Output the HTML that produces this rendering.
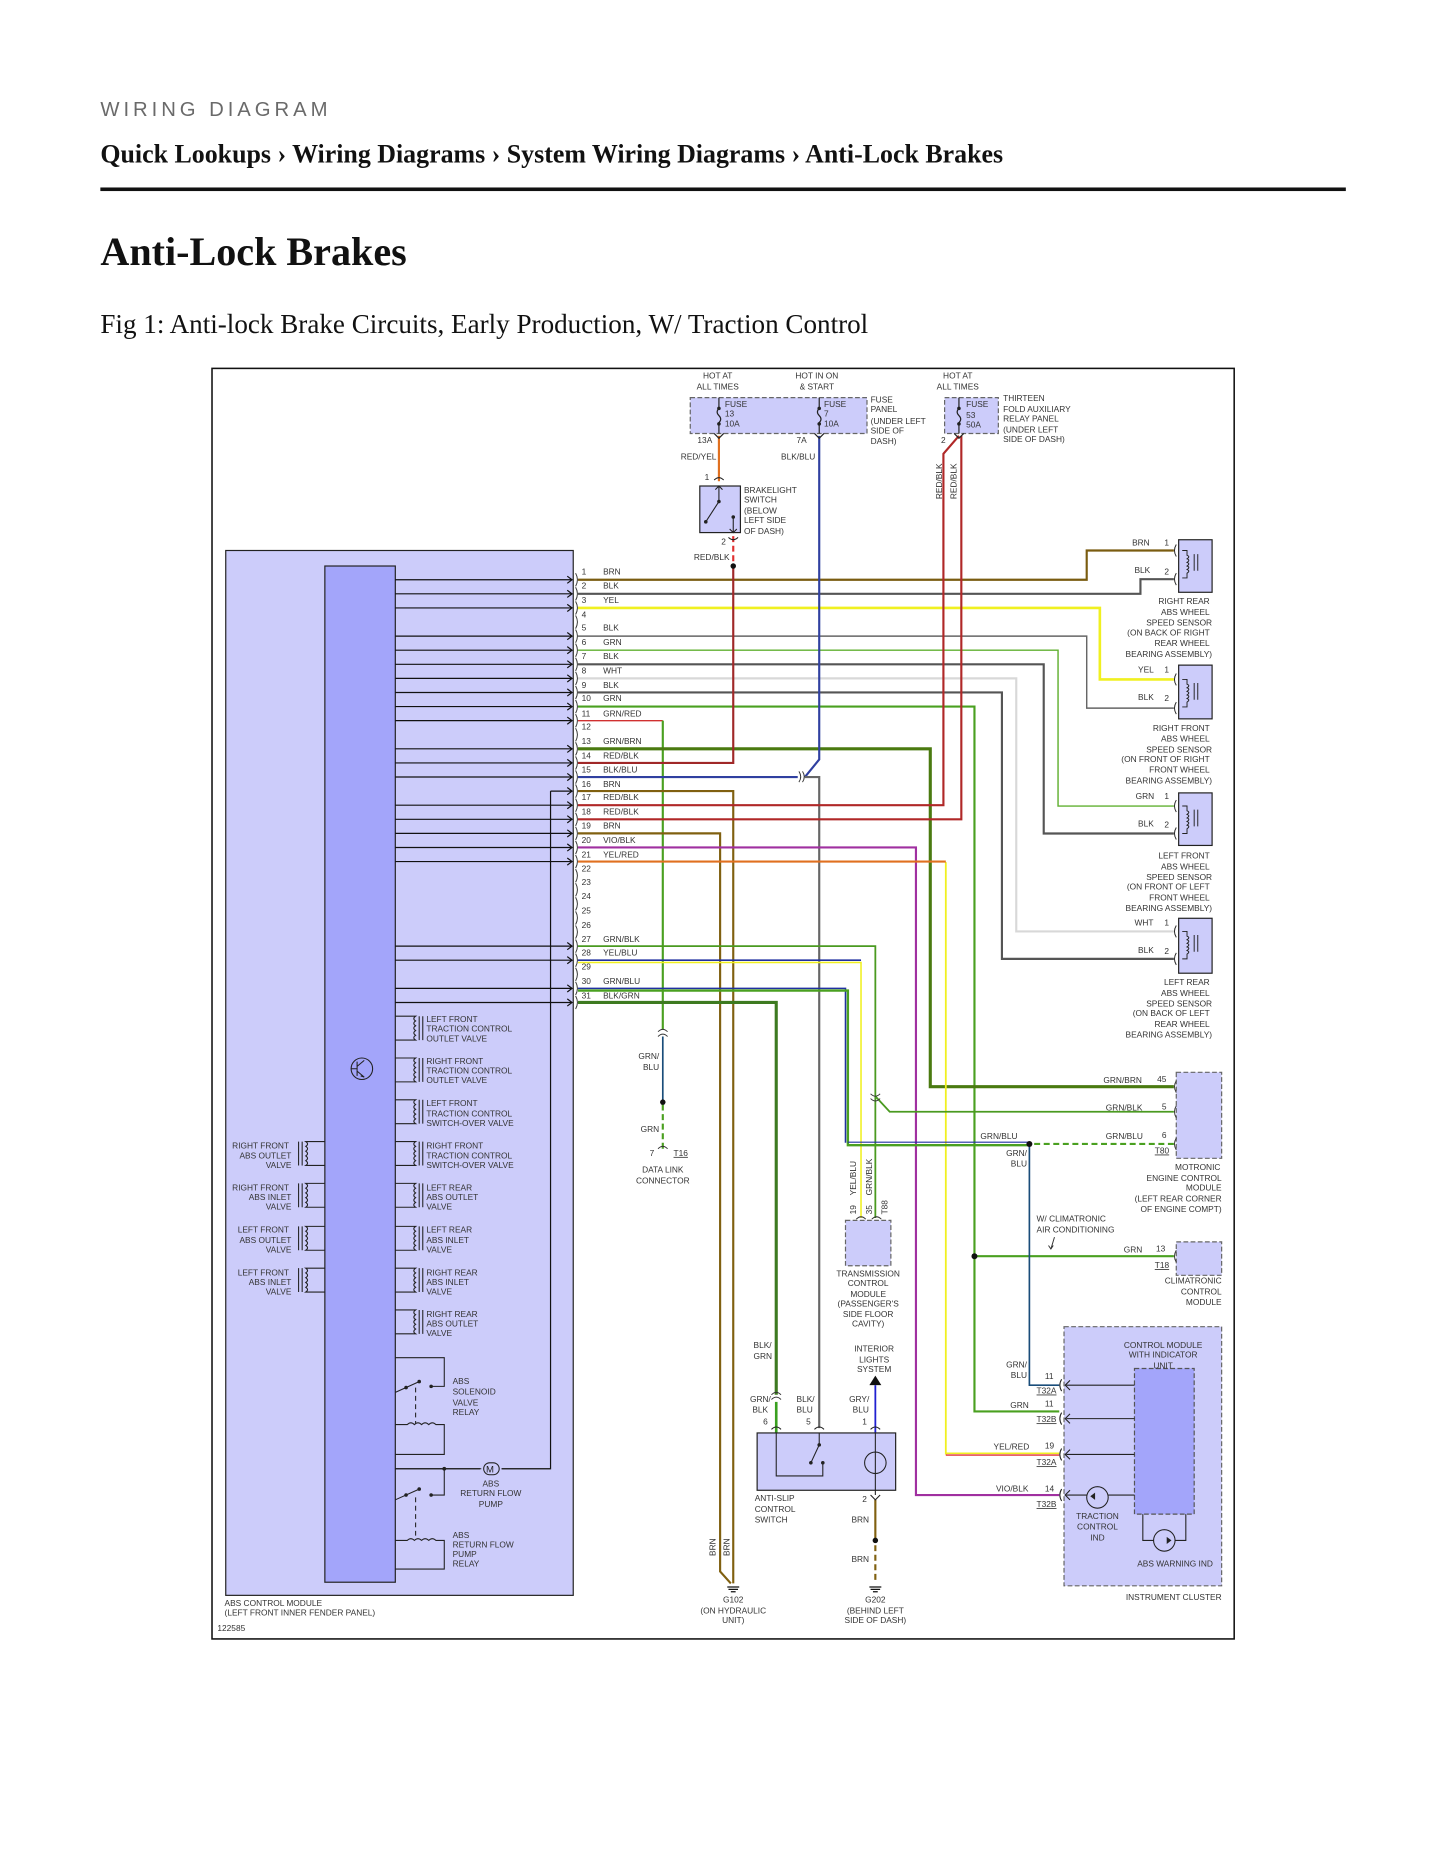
<!DOCTYPE html>
<html><head><meta charset="utf-8"><style>
html,body{margin:0;padding:0;background:#fff;}
svg{display:block;}
.s{font-family:"Liberation Sans",sans-serif;font-size:7px;fill:#333;}
.r{text-anchor:end;}
.m{text-anchor:middle;}
</style></head><body>
<svg width="1445" height="1870" viewBox="0 0 1210 1566" xmlns="http://www.w3.org/2000/svg">
<text x="84" y="97" font-family="Liberation Sans,sans-serif" font-size="17" letter-spacing="3.3" fill="#6a6a6a">WIRING DIAGRAM</text>
<text x="84" y="136" font-family="Liberation Serif,serif" font-size="21.7" font-weight="bold" fill="#111">Quick Lookups › Wiring Diagrams › System Wiring Diagrams › Anti-Lock Brakes</text>
<rect x="84" y="157" width="1043" height="3" fill="#111"/>
<text x="84" y="222" font-family="Liberation Serif,serif" font-size="33.6" font-weight="bold" fill="#111">Anti-Lock Brakes</text>
<text x="84" y="279" font-family="Liberation Serif,serif" font-size="22.7" fill="#111">Fig 1: Anti-lock Brake Circuits, Early Production, W/ Traction Control</text>

<rect x="177.5" y="308.5" width="856" height="1064" fill="#fff" stroke="#111" stroke-width="1.3"/>

<!-- ABS module -->
<rect x="189" y="461" width="291" height="875" fill="#ccccfa" stroke="#222" stroke-width="1"/>
<rect x="272" y="474" width="59" height="851" fill="#a3a5fa" stroke="#222" stroke-width="1"/>
<text class="s" x="188" y="1345">ABS CONTROL MODULE</text>
<text class="s" x="188" y="1353">(LEFT FRONT INNER FENDER PANEL)</text>
<text class="s" x="182" y="1366">122585</text>

<g stroke="#111" stroke-width="1" fill="none">
<path d="M331 485.5H479M331 497.3H479M331 509.1H479M331 532.7H479M331 544.5H479M331 556.3H479M331 568.1H479M331 579.9H479M331 591.7H479M331 603.5H479M331 627.1H479M331 638.9H479M331 650.7H479M461 662.5H479M331 674.3H479M331 686.1H479M331 697.9H479M331 709.7H479M331 721.5H479M331 792.3H479M331 804.1H479M331 827.7H479M331 839.5H479"/>
<path d="M475 482.5l4 3-4 3M475 494.3l4 3-4 3M475 506.1l4 3-4 3M475 529.7l4 3-4 3M475 541.5l4 3-4 3M475 553.3l4 3-4 3M475 565.1l4 3-4 3M475 576.9l4 3-4 3M475 588.7l4 3-4 3M475 600.5l4 3-4 3M475 624.1l4 3-4 3M475 635.9l4 3-4 3M475 647.7l4 3-4 3M475 659.5l4 3-4 3M475 671.3l4 3-4 3M475 683.1l4 3-4 3M475 694.9l4 3-4 3M475 706.7l4 3-4 3M475 718.5l4 3-4 3M475 789.3l4 3-4 3M475 801.1l4 3-4 3M475 824.7l4 3-4 3M475 836.5l4 3-4 3"/>
<path d="M461 662.5V1230H420M402 1230H331"/>
</g>
<g stroke="#333" stroke-width="0.8" fill="none">
<path d="M482 480q3 5.5 0 11M482 491.8q3 5.5 0 11M482 503.6q3 5.5 0 11M482 515.4q3 5.5 0 11M482 527.2q3 5.5 0 11M482 539q3 5.5 0 11M482 550.8q3 5.5 0 11M482 562.6q3 5.5 0 11M482 574.4q3 5.5 0 11M482 586.2q3 5.5 0 11M482 598q3 5.5 0 11M482 609.8q3 5.5 0 11M482 621.6q3 5.5 0 11M482 633.4q3 5.5 0 11M482 645.2q3 5.5 0 11M482 657q3 5.5 0 11M482 668.8q3 5.5 0 11M482 680.6q3 5.5 0 11M482 692.4q3 5.5 0 11M482 704.2q3 5.5 0 11M482 716q3 5.5 0 11M482 727.8q3 5.5 0 11M482 739.6q3 5.5 0 11M482 751.4q3 5.5 0 11M482 763.2q3 5.5 0 11M482 775q3 5.5 0 11M482 786.8q3 5.5 0 11M482 798.6q3 5.5 0 11M482 810.4q3 5.5 0 11M482 822.2q3 5.5 0 11M482 834q3 5.5 0 11"/>
</g>
<g class="s">
<text x="487" y="481">1</text><text x="505" y="481">BRN</text>
<text x="487" y="493">2</text><text x="505" y="493">BLK</text>
<text x="487" y="505">3</text><text x="505" y="505">YEL</text>
<text x="487" y="517">4</text>
<text x="487" y="528">5</text><text x="505" y="528">BLK</text>
<text x="487" y="540">6</text><text x="505" y="540">GRN</text>
<text x="487" y="552">7</text><text x="505" y="552">BLK</text>
<text x="487" y="564">8</text><text x="505" y="564">WHT</text>
<text x="487" y="576">9</text><text x="505" y="576">BLK</text>
<text x="487" y="587">10</text><text x="505" y="587">GRN</text>
<text x="487" y="600">11</text><text x="505" y="600">GRN/RED</text>
<text x="487" y="611">12</text>
<text x="487" y="623">13</text><text x="505" y="623">GRN/BRN</text>
<text x="487" y="635">14</text><text x="505" y="635">RED/BLK</text>
<text x="487" y="647">15</text><text x="505" y="647">BLK/BLU</text>
<text x="487" y="659">16</text><text x="505" y="659">BRN</text>
<text x="487" y="670">17</text><text x="505" y="670">RED/BLK</text>
<text x="487" y="682">18</text><text x="505" y="682">RED/BLK</text>
<text x="487" y="694">19</text><text x="505" y="694">BRN</text>
<text x="487" y="706">20</text><text x="505" y="706">VIO/BLK</text>
<text x="487" y="718">21</text><text x="505" y="718">YEL/RED</text>
<text x="487" y="730">22</text>
<text x="487" y="741">23</text>
<text x="487" y="753">24</text>
<text x="487" y="765">25</text>
<text x="487" y="777">26</text>
<text x="487" y="789">27</text><text x="505" y="789">GRN/BLK</text>
<text x="487" y="800">28</text><text x="505" y="800">YEL/BLU</text>
<text x="487" y="812">29</text>
<text x="487" y="824">30</text><text x="505" y="824">GRN/BLU</text>
<text x="487" y="836">31</text><text x="505" y="836">BLK/GRN</text>
</g>

<g fill="none" stroke-width="1.8">
<path stroke="#7a5c10" d="M484 485.5H910V461H983"/>
<path stroke="#555" d="M484 497.3H955V485H983"/>
<path stroke="#f0f020" stroke-width="2.2" d="M484 509.1H921V569H983"/>
<path stroke="#666" stroke-width="1.2" d="M484 532.7H910V593H983"/>
<path stroke="#60b030" stroke-width="1.2" d="M484 544.5H886V675H983"/>
<path stroke="#555" d="M484 556.3H874V698H983"/>
<path stroke="#d8d8d8" d="M484 568.1H851V780H983"/>
<path stroke="#555" d="M484 579.9H839V803H983"/>
<path stroke="#4aa020" d="M484 591.7H816V1182H887M816 1052H983"/>
<path stroke="#d03030" stroke-width="1.2" d="M484 603.5H555"/>
<path stroke="#4aa020" d="M555 603.5V862"/>
<path stroke="#1a4d7a" stroke-width="1.4" d="M555 868V922"/>
<path stroke="#4aa020" stroke-width="1.8" stroke-dasharray="5,3" d="M555 925V962"/>
<path stroke="#4a7a10" stroke-width="2.6" d="M484 627.1H779V910H983"/>
<path stroke="#a02828" d="M484 638.9H614V474"/>
<path stroke="#e03030" stroke-width="1.8" stroke-dasharray="5,3" d="M614 449V474"/>
<path stroke="#3040a0" d="M484 650.7H668M674 650.7L686 636V365"/>
<path stroke="#666" d="M674 650.7H686V1196"/>
<path stroke="#806010" d="M484 662.5H614V1326"/>
<path stroke="#b02828" d="M484 674.3H790V380L803 365"/>
<path stroke="#b02828" d="M484 686.1H805V365"/>
<path stroke="#806010" d="M484 697.9H603V1316L612 1326"/>
<path stroke="#a030a0" d="M484 709.7H767V1252H887"/>
<path stroke="#f0f020" stroke-width="1.5" d="M792 722V1218"/>
<path stroke="#e07020" d="M484 721.5H792"/>
<path stroke="#e03030" stroke-width="1.2" d="M792 1218.5H887"/>
<path stroke="#f0f020" stroke-width="1.2" d="M792 1217H887"/>
<path stroke="#4a9a20" stroke-width="1.5" d="M484 792.3H733V1020M733 918L745 931H983"/>
<path stroke="#2030a0" stroke-width="1.3" d="M484 804.1H721"/>
<path stroke="#f0f020" stroke-width="1.3" d="M484 806H721V1020"/>
<path stroke="#2030a0" stroke-width="1.3" d="M484 827.7H708V957"/>
<path stroke="#4aa020" stroke-width="2" d="M484 829.5H710V959H862"/>
<path stroke="#2030a0" stroke-width="1" d="M710 956.5H862"/>
<path stroke="#4aa020" stroke-width="1.8" stroke-dasharray="5,3" d="M866 958H983"/>
<path stroke="#1a4d7a" stroke-width="1.4" d="M862 958V1160H887"/>
<path stroke="#3d7a20" stroke-width="2.6" d="M484 839.5H650V1168"/>
<path stroke="#3aa020" stroke-width="2.2" d="M650 1174V1200"/>
<path stroke="#e07020" stroke-width="1.8" d="M602 365V403"/>
<path stroke="#2020d0" stroke-width="1.5" d="M733 1160V1200"/>
<path stroke="#806010" stroke-width="1.8" d="M733 1256V1290"/>
<path stroke="#806010" stroke-width="1.8" stroke-dasharray="5,3" d="M733 1294V1326"/>
</g>
<circle cx="614" cy="474" r="2.3" fill="#111"/>
<circle cx="555" cy="923" r="2.3" fill="#111"/>
<circle cx="862" cy="958" r="2.5" fill="#111"/>
<circle cx="816" cy="1052" r="2.5" fill="#111"/>
<circle cx="733" cy="1290" r="2.3" fill="#111"/>
<g stroke="#333" stroke-width="0.8" fill="none">
<path d="M669 646q3 4.5 0 9M672 646q3 4.5 0 9"/>
<path d="M551 864q4-4 8 0M551 868q4-4 8 0"/>
<path d="M729 916q4 4 8 0M729 920q4 4 8 0"/>
<path d="M646 1168q4-4 8 0M646 1172q4-4 8 0"/>
<path d="M551 962q4-4 8 0"/>
</g>

<rect x="578" y="333" width="148" height="30" fill="#ccccfa" stroke="#666" stroke-dasharray="4,2"/>
<rect x="791" y="333" width="45" height="30" fill="#ccccfa" stroke="#666" stroke-dasharray="4,2"/>
<g stroke="#222" stroke-width="1" fill="none">
<path d="M602 333V342q-3 3 0 6q3 3 0 6V363M686 333V342q-3 3 0 6q3 3 0 6V363M803 333V342q-3 3 0 6q3 3 0 6V363"/>
<path d="M598 363l4 4 4-4M682 363l4 4 4-4M799 363l4 4 4-4"/>
</g>
<g fill="#222"><circle cx="602" cy="342" r="1.5"/><circle cx="602" cy="355" r="1.5"/><circle cx="686" cy="342" r="1.5"/><circle cx="686" cy="355" r="1.5"/><circle cx="803" cy="342" r="1.5"/><circle cx="803" cy="355" r="1.5"/></g>
<g class="s">
<text class="m" x="601" y="317">HOT AT</text><text class="m" x="601" y="326">ALL TIMES</text>
<text class="m" x="684" y="317">HOT IN ON</text><text class="m" x="684" y="326">&amp; START</text>
<text class="m" x="802" y="317">HOT AT</text><text class="m" x="802" y="326">ALL TIMES</text>
<text x="607" y="341">FUSE</text><text x="607" y="349">13</text><text x="607" y="357">10A</text>
<text x="690" y="341">FUSE</text><text x="690" y="349">7</text><text x="690" y="357">10A</text>
<text x="809" y="341">FUSE</text><text x="809" y="350">53</text><text x="809" y="358">50A</text>
<text x="729" y="337">FUSE</text><text x="729" y="345">PANEL</text><text x="729" y="355">(UNDER LEFT</text><text x="729" y="363">SIDE OF</text><text x="729" y="372">DASH)</text>
<text x="840" y="336">THIRTEEN</text><text x="840" y="345">FOLD AUXILIARY</text><text x="840" y="353">RELAY PANEL</text><text x="840" y="362">(UNDER LEFT</text><text x="840" y="370">SIDE OF DASH)</text>
<text x="584" y="371">13A</text><text x="667" y="371">7A</text><text x="788" y="371">2</text>
<text x="570" y="385">RED/YEL</text><text x="654" y="385">BLK/BLU</text>
<text transform="translate(789,418) rotate(-90)">RED/BLK</text>
<text transform="translate(801,418) rotate(-90)">RED/BLK</text>
</g>

<rect x="586" y="407" width="34" height="39" fill="#ccccfa" stroke="#222"/>
<g stroke="#222" fill="none" stroke-width="0.9">
<path d="M598 402q4-4 8 0M610 450q4 4 8 0M602 407V420L591 437M614 433V446M611 443l3 3 3-3M599 410l3-3 3 3"/>
</g>
<g fill="#222"><circle cx="602" cy="420" r="1.5"/><circle cx="591" cy="437" r="1.5"/><circle cx="614" cy="433" r="1.5"/></g>
<g class="s">
<text x="590" y="402">1</text><text x="604" y="456">2</text><text x="581" y="469">RED/BLK</text>
<text x="623" y="413">BRAKELIGHT</text><text x="623" y="421">SWITCH</text><text x="623" y="430">(BELOW</text><text x="623" y="438">LEFT SIDE</text><text x="623" y="447">OF DASH)</text>
</g>

<rect x="987" y="452" width="28" height="44" fill="#ccccfa" stroke="#222"/>
<rect x="987" y="557" width="28" height="45" fill="#ccccfa" stroke="#222"/>
<rect x="987" y="664" width="28" height="44" fill="#ccccfa" stroke="#222"/>
<rect x="987" y="769" width="28" height="46" fill="#ccccfa" stroke="#222"/>
<g stroke="#222" fill="none" stroke-width="0.8">
<path d="M985 456q-3 5 0 10M985 480q-3 5 0 10M985 564q-3 5 0 10M985 588q-3 5 0 10M985 670q-3 5 0 10M985 693q-3 5 0 10M985 775q-3 5 0 10M985 798q-3 5 0 10"/>
<path d="M990 461h4v4q3 1 0 3q3 1 0 3q3 1 0 3q3 1 0 3q3 1 0 3v4h-4M1000 464v14M1003 464v14"/>
<path d="M990 569h4v4q3 1 0 3q3 1 0 3q3 1 0 3q3 1 0 3q3 1 0 3v4h-4M1000 572v14M1003 572v14"/>
<path d="M990 675h4v4q3 1 0 3q3 1 0 3q3 1 0 3q3 1 0 3q3 1 0 3v4h-4M1000 678v14M1003 678v14"/>
<path d="M990 780h4v4q3 1 0 3q3 1 0 3q3 1 0 3q3 1 0 3q3 1 0 3v4h-4M1000 783v14M1003 783v14"/>
</g>
<g class="s">
<text x="948" y="457">BRN</text><text x="975" y="457">1</text><text x="950" y="480">BLK</text><text x="975" y="481">2</text>
<g class="r"><text x="1013" y="506">RIGHT REAR</text><text x="1013" y="515">ABS WHEEL</text><text x="1015" y="524">SPEED SENSOR</text><text x="1013" y="532">(ON BACK OF RIGHT</text><text x="1013" y="541">REAR WHEEL</text><text x="1015" y="550">BEARING ASSEMBLY)</text></g>
<text x="953" y="563">YEL</text><text x="975" y="563">1</text><text x="953" y="586">BLK</text><text x="975" y="587">2</text>
<g class="r"><text x="1013" y="612">RIGHT FRONT</text><text x="1013" y="621">ABS WHEEL</text><text x="1015" y="630">SPEED SENSOR</text><text x="1013" y="638">(ON FRONT OF RIGHT</text><text x="1013" y="647">FRONT WHEEL</text><text x="1015" y="656">BEARING ASSEMBLY)</text></g>
<text x="951" y="669">GRN</text><text x="975" y="669">1</text><text x="953" y="692">BLK</text><text x="975" y="693">2</text>
<g class="r"><text x="1013" y="719">LEFT FRONT</text><text x="1013" y="728">ABS WHEEL</text><text x="1015" y="737">SPEED SENSOR</text><text x="1013" y="745">(ON FRONT OF LEFT</text><text x="1013" y="754">FRONT WHEEL</text><text x="1015" y="763">BEARING ASSEMBLY)</text></g>
<text x="950" y="775">WHT</text><text x="975" y="775">1</text><text x="953" y="798">BLK</text><text x="975" y="799">2</text>
<g class="r"><text x="1013" y="825">LEFT REAR</text><text x="1013" y="834">ABS WHEEL</text><text x="1015" y="843">SPEED SENSOR</text><text x="1013" y="851">(ON BACK OF LEFT</text><text x="1013" y="860">REAR WHEEL</text><text x="1015" y="869">BEARING ASSEMBLY)</text></g>
</g>

<g class="s">
<text class="r" x="552" y="887">GRN/</text><text class="r" x="552" y="896">BLU</text>
<text class="r" x="552" y="948">GRN</text>
<text x="544" y="968">7</text><text x="564" y="968" text-decoration="underline">T16</text>
<text class="m" x="555" y="982">DATA LINK</text><text class="m" x="555" y="991">CONNECTOR</text>
</g>

<rect x="985" y="898" width="38" height="72" fill="#ccccfa" stroke="#666" stroke-dasharray="4,2"/>
<rect x="985" y="1040" width="38" height="28" fill="#ccccfa" stroke="#666" stroke-dasharray="4,2"/>
<g stroke="#333" fill="none" stroke-width="0.8"><path d="M985 905q-3 5 0 10M985 926q-3 5 0 10M985 953q-3 5 0 10M985 1047q-3 5 0 10"/><path d="M883 1036l-3 10M878 1043l2 3 2-3"/></g>
<g class="s">
<text x="924" y="907">GRN/BRN</text><text x="969" y="906">45</text>
<text x="926" y="930">GRN/BLK</text><text x="973" y="929">5</text>
<text x="926" y="954">GRN/BLU</text><text x="973" y="953">6</text>
<text x="821" y="954">GRN/BLU</text>
<text class="r" x="860" y="968">GRN/</text><text class="r" x="860" y="977">BLU</text>
<text x="967" y="966" text-decoration="underline">T80</text>
<g class="r"><text x="1022" y="980">MOTRONIC</text><text x="1023" y="989">ENGINE CONTROL</text><text x="1023" y="997">MODULE</text><text x="1023" y="1006">(LEFT REAR CORNER</text><text x="1023" y="1015">OF ENGINE COMPT)</text></g>
<text x="868" y="1023">W/ CLIMATRONIC</text><text x="868" y="1032">AIR CONDITIONING</text>
<text x="941" y="1049">GRN</text><text x="968" y="1048">13</text>
<text x="967" y="1062" text-decoration="underline">T18</text>
<g class="r"><text x="1023" y="1075">CLIMATRONIC</text><text x="1023" y="1084">CONTROL</text><text x="1023" y="1093">MODULE</text></g>
</g>

<rect x="708" y="1022" width="38" height="38" fill="#ccccfa" stroke="#666" stroke-dasharray="4,2"/>
<g stroke="#333" fill="none" stroke-width="0.8"><path d="M717 1021q4-4 8 0M730 1021q4-4 8 0"/></g>
<g class="s">
<text transform="translate(717,1017) rotate(-90)">19</text>
<text transform="translate(717,1001) rotate(-90)">YEL/BLU</text>
<text transform="translate(730,1017) rotate(-90)">35</text>
<text transform="translate(730,1001) rotate(-90)">GRN/BLK</text>
<text transform="translate(743,1017) rotate(-90)">T88</text>
<text class="m" x="727" y="1069">TRANSMISSION</text><text class="m" x="727" y="1077">CONTROL</text><text class="m" x="727" y="1086">MODULE</text><text class="m" x="727" y="1094">(PASSENGER'S</text><text class="m" x="727" y="1103">SIDE FLOOR</text><text class="m" x="727" y="1111">CAVITY)</text>
</g>

<rect x="634" y="1200" width="116" height="48" fill="#ccccfa" stroke="#222"/>
<g stroke="#222" fill="none" stroke-width="0.9">
<path d="M646 1197q4-4 8 0M682 1197q4-4 8 0M729 1197q4-4 8 0M729 1252l4 4 4-4"/>
<path d="M650 1200V1236H689V1225M686 1200V1210L679 1225M733 1200V1252"/>
<circle cx="733" cy="1225" r="9"/>
</g>
<path d="M728 1160L733 1152 738 1160Z" fill="#111"/>
<g fill="#222"><circle cx="686" cy="1210" r="1.5"/><circle cx="679" cy="1225" r="1.5"/><circle cx="689" cy="1225" r="1.5"/></g>
<g class="s">
<text x="631" y="1129">BLK/</text><text x="631" y="1138">GRN</text>
<text class="m" x="732" y="1132">INTERIOR</text><text class="m" x="732" y="1141">LIGHTS</text><text class="m" x="732" y="1149">SYSTEM</text>
<text x="628" y="1174">GRN/</text><text x="630" y="1183">BLK</text><text x="639" y="1193">6</text>
<text x="667" y="1174">BLK/</text><text x="667" y="1183">BLU</text><text x="675" y="1193">5</text>
<text x="711" y="1174">GRY/</text><text x="714" y="1183">BLU</text><text x="722" y="1193">1</text>
<text x="632" y="1257">ANTI-SLIP</text><text x="632" y="1266">CONTROL</text><text x="632" y="1275">SWITCH</text>
<text x="722" y="1258">2</text><text x="713" y="1275">BRN</text><text x="713" y="1308">BRN</text>
<text transform="translate(599,1303) rotate(-90)">BRN</text>
<text transform="translate(611,1303) rotate(-90)">BRN</text>
<text class="m" x="614" y="1342">G102</text><text class="m" x="614" y="1351">(ON HYDRAULIC</text><text class="m" x="614" y="1359">UNIT)</text>
<text class="m" x="733" y="1342">G202</text><text class="m" x="733" y="1351">(BEHIND LEFT</text><text class="m" x="733" y="1359">SIDE OF DASH)</text>
</g>
<g stroke="#111" stroke-width="1"><path d="M609 1329h10M610 1331h8M612 1333h4M728 1329h10M729 1331h8M731 1333h4"/></g>

<rect x="891" y="1111" width="132" height="217" fill="#ccccfa" stroke="#666" stroke-dasharray="4,2"/>
<rect x="950" y="1146" width="50" height="122" fill="#a3a5fa" stroke="#555" stroke-dasharray="4,2"/>
<g stroke="#222" fill="none" stroke-width="0.9">
<path d="M893 1160H950M893 1188H950M893 1218H950M893 1252H910M928 1252H950M896 1156l-4 4 4 4M896 1184l-4 4 4 4M896 1214l-4 4 4 4M896 1248l-4 4 4 4"/>
<path d="M889 1155q-3 5 0 10M889 1183q-3 5 0 10M889 1213q-3 5 0 10M889 1247q-3 5 0 10"/>
<circle cx="919" cy="1254" r="9"/>
<circle cx="975" cy="1290" r="9"/>
<path d="M957 1268V1290H966M984 1290H993V1268"/>
</g>
<path d="M917 1250v6l-4-3zM977 1287v6l4-3z" fill="#222"/>
<g class="s">
<text class="m" x="974" y="1129">CONTROL MODULE</text><text class="m" x="974" y="1137">WITH INDICATOR</text><text class="m" x="974" y="1146">UNIT</text>
<text class="r" x="860" y="1145">GRN/</text><text class="r" x="860" y="1154">BLU</text><text x="875" y="1155">11</text><text x="868" y="1167" text-decoration="underline">T32A</text>
<text x="846" y="1179">GRN</text><text x="875" y="1178">11</text><text x="868" y="1191" text-decoration="underline">T32B</text>
<text x="832" y="1214">YEL/RED</text><text x="875" y="1213">19</text><text x="868" y="1227" text-decoration="underline">T32A</text>
<text x="834" y="1249">VIO/BLK</text><text x="875" y="1249">14</text><text x="868" y="1262" text-decoration="underline">T32B</text>
<text class="m" x="919" y="1272">TRACTION</text><text class="m" x="919" y="1281">CONTROL</text><text class="m" x="919" y="1290">IND</text>
<text class="m" x="984" y="1312">ABS WARNING IND</text>
<text class="r" x="1023" y="1340">INSTRUMENT CLUSTER</text>
</g>

<g stroke="#222" fill="none" stroke-width="0.9">
<path d="M331 851H348q-3 2 0 4q-3 2 0 4q-3 2 0 4q-3 2 0 4q-3 2 0 4H331M351 851v20M354 851v20"/>
<path d="M331 886H348q-3 2 0 4q-3 2 0 4q-3 2 0 4q-3 2 0 4q-3 2 0 4H331M351 886v20M354 886v20"/>
<path d="M331 921H348q-3 2 0 4q-3 2 0 4q-3 2 0 4q-3 2 0 4q-3 2 0 4H331M351 921v20M354 921v20"/>
<path d="M331 956H348q-3 2 0 4q-3 2 0 4q-3 2 0 4q-3 2 0 4q-3 2 0 4H331M351 956v20M354 956v20"/>
<path d="M331 991H348q-3 2 0 4q-3 2 0 4q-3 2 0 4q-3 2 0 4q-3 2 0 4H331M351 991v20M354 991v20"/>
<path d="M331 1027H348q-3 2 0 4q-3 2 0 4q-3 2 0 4q-3 2 0 4q-3 2 0 4H331M351 1027v20M354 1027v20"/>
<path d="M331 1062H348q-3 2 0 4q-3 2 0 4q-3 2 0 4q-3 2 0 4q-3 2 0 4H331M351 1062v20M354 1062v20"/>
<path d="M331 1097H348q-3 2 0 4q-3 2 0 4q-3 2 0 4q-3 2 0 4q-3 2 0 4H331M351 1097v20M354 1097v20"/>
<path d="M272 956H256q3 2 0 4q3 2 0 4q3 2 0 4q3 2 0 4q3 2 0 4H272M253 956v20M250 956v20"/>
<path d="M272 991H256q3 2 0 4q3 2 0 4q3 2 0 4q3 2 0 4q3 2 0 4H272M253 991v20M250 991v20"/>
<path d="M272 1027H256q3 2 0 4q3 2 0 4q3 2 0 4q3 2 0 4q3 2 0 4H272M253 1027v20M250 1027v20"/>
<path d="M272 1062H256q3 2 0 4q3 2 0 4q3 2 0 4q3 2 0 4q3 2 0 4H272M253 1062v20M250 1062v20"/>
<circle cx="303" cy="895" r="9"/>
<path d="M299 889v12M294 895h5M299 893l6-5M299 897l6 5M305 902l-3-1"/>
<path d="M331 1137H372V1161H361M331 1166L351 1157"/>
<path d="M331 1193H341q3-3 6 0q3-3 6 0q3-3 6 0q3-3 6 0H372V1218H331"/>
<path stroke-dasharray="4,3" d="M348 1162V1192"/>
<path d="M331 1230H403M420 1230H461"/>
<rect x="405" y="1225" width="13" height="10" rx="5"/>
<path d="M331 1256L351 1247M372 1230V1252H361"/>
<path d="M331 1290H341q3-3 6 0q3-3 6 0q3-3 6 0q3-3 6 0H372V1314H331"/>
<path stroke-dasharray="4,3" d="M348 1254V1288"/>
</g>
<g fill="#222"><circle cx="351" cy="1157" r="1.5"/><circle cx="340" cy="1162" r="1.5"/><circle cx="361" cy="1161" r="1.5"/><circle cx="372" cy="1230" r="1.6"/><circle cx="351" cy="1247" r="1.5"/><circle cx="340" cy="1252" r="1.5"/><circle cx="361" cy="1252" r="1.5"/></g>
<text x="407" y="1233" font-family="Liberation Sans,sans-serif" font-size="8" fill="#222">M</text>
<g class="s">
<text x="357" y="856">LEFT FRONT</text><text x="357" y="864">TRACTION CONTROL</text><text x="357" y="872">OUTLET VALVE</text>
<text x="357" y="891">RIGHT FRONT</text><text x="357" y="899">TRACTION CONTROL</text><text x="357" y="907">OUTLET VALVE</text>
<text x="357" y="926">LEFT FRONT</text><text x="357" y="935">TRACTION CONTROL</text><text x="357" y="943">SWITCH-OVER VALVE</text>
<text x="357" y="962">RIGHT FRONT</text><text x="357" y="970">TRACTION CONTROL</text><text x="357" y="978">SWITCH-OVER VALVE</text>
<text x="357" y="997">LEFT REAR</text><text x="357" y="1005">ABS OUTLET</text><text x="357" y="1013">VALVE</text>
<text x="357" y="1032">LEFT REAR</text><text x="357" y="1041">ABS INLET</text><text x="357" y="1049">VALVE</text>
<text x="357" y="1068">RIGHT REAR</text><text x="357" y="1076">ABS INLET</text><text x="357" y="1084">VALVE</text>
<text x="357" y="1103">RIGHT REAR</text><text x="357" y="1111">ABS OUTLET</text><text x="357" y="1119">VALVE</text>
<text class="r" x="242" y="962">RIGHT FRONT</text><text class="r" x="244" y="970">ABS OUTLET</text><text class="r" x="244" y="978">VALVE</text>
<text class="r" x="242" y="997">RIGHT FRONT</text><text class="r" x="244" y="1005">ABS INLET</text><text class="r" x="244" y="1013">VALVE</text>
<text class="r" x="242" y="1032">LEFT FRONT</text><text class="r" x="244" y="1041">ABS OUTLET</text><text class="r" x="244" y="1049">VALVE</text>
<text class="r" x="242" y="1068">LEFT FRONT</text><text class="r" x="244" y="1076">ABS INLET</text><text class="r" x="244" y="1084">VALVE</text>
<text x="379" y="1159">ABS</text><text x="379" y="1168">SOLENOID</text><text x="379" y="1177">VALVE</text><text x="379" y="1185">RELAY</text>
<text class="m" x="411" y="1245">ABS</text><text class="m" x="411" y="1253">RETURN FLOW</text><text class="m" x="411" y="1262">PUMP</text>
<text x="379" y="1288">ABS</text><text x="379" y="1296">RETURN FLOW</text><text x="379" y="1304">PUMP</text><text x="379" y="1312">RELAY</text>
</g>
</svg>
</body></html>
